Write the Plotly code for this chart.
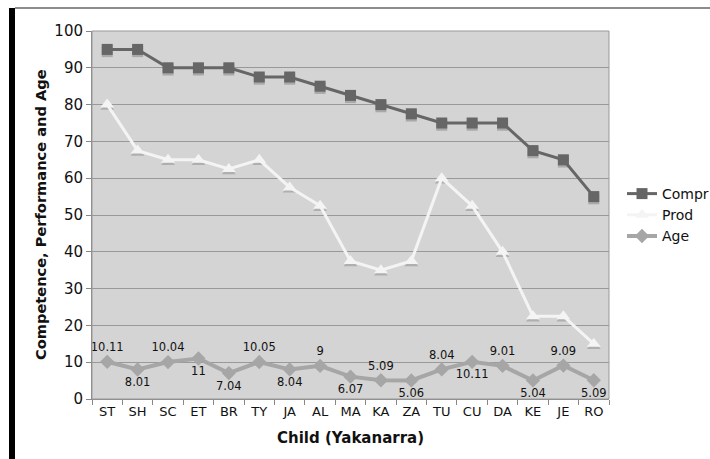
import plotly.graph_objects as go

children = ["ST", "SH", "SC", "ET", "BR", "TY", "JA", "AL", "MA",
            "KA", "ZA", "TU", "CU", "DA", "KE", "JE", "RO"]
compr = [95, 95, 90, 90, 90, 87.5, 87.5, 85, 82.5, 80, 77.5, 75, 75, 75, 67.5, 65, 55]
prod = [80, 67.5, 65, 65, 62.5, 65, 57.5, 52.5, 37.5, 35, 37.5, 60, 52.5, 40, 22.5, 22.5, 15]
age = [10.11, 8.01, 10.04, 11, 7.04, 10.05, 8.04, 9, 6.07, 5.09, 5.06, 8.04, 10.11, 9.01, 5.04, 9.09, 5.09]
age_labels = ["10.11", "8.01", "10.04", "11", "7.04", "10.05", "8.04", "9", "6.07",
              "5.09", "5.06", "8.04", "10.11", "9.01", "5.04", "9.09", "5.09"]
age_label_pos = ["top center", "bottom center", "top center", "bottom center", "bottom center",
                 "top center", "bottom center", "top center", "bottom center", "top center",
                 "bottom center", "top center", "bottom center", "top center", "bottom center",
                 "top center", "bottom center"]

FONT = "DejaVu Sans"

L, R, T, B = 92, 101, 31, 60
W, H = 710, 459
PW, PH = W - L - R, H - T - B


def px_x(p):
    return (p - L) / PW


def px_y(p):
    return (H - B - p) / PH


fig = go.Figure()

# soft drop shadows under the markers
fig.add_trace(go.Scatter(
    x=children, y=[v - 0.6 for v in compr], mode="markers", showlegend=False,
    hoverinfo="skip", marker=dict(symbol="square", size=11, color="rgba(140,140,140,0.6)")))
fig.add_trace(go.Scatter(
    x=children, y=[v - 0.6 for v in prod], mode="markers", showlegend=False,
    hoverinfo="skip", marker=dict(symbol="triangle-up", size=12, color="rgba(150,150,150,0.6)")))

fig.add_trace(go.Scatter(
    x=children, y=compr, name="Compr", mode="lines+markers",
    line=dict(color="#666666", width=3),
    marker=dict(symbol="square", size=11, color="#666666")))
fig.add_trace(go.Scatter(
    x=children, y=prod, name="Prod", mode="lines+markers",
    line=dict(color="#f4f4f4", width=3),
    marker=dict(symbol="triangle-up", size=12, color="#f4f4f4")))
fig.add_trace(go.Scatter(
    x=children, y=age, name="Age", mode="lines+markers+text",
    line=dict(color="#a6a6a6", width=4),
    marker=dict(symbol="diamond", size=11, color="#a6a6a6"),
    text=age_labels, textposition=age_label_pos,
    textfont=dict(family=FONT, size=11.5, color="#111111")))

fig.update_layout(
    width=W, height=H,
    margin=dict(l=L, r=R, t=T, b=B, autoexpand=False),
    paper_bgcolor="white",
    plot_bgcolor="#d4d4d4",
    font=dict(family=FONT, size=13, color="#111111"),
    showlegend=True,
    legend=dict(x=px_x(622), y=px_y(215), xanchor="left", yanchor="middle",
                bgcolor="rgba(0,0,0,0)", font=dict(family=FONT, size=14),
                itemwidth=30, tracegroupgap=0),
    xaxis=dict(
        type="category", range=[-0.5, 16.5], tickson="boundaries",
        ticks="outside", ticklen=5, tickcolor="#888888",
        showgrid=False, showline=True, linecolor="#888888", linewidth=1,
        tickfont=dict(family=FONT, size=13), zeroline=False, fixedrange=True),
    yaxis=dict(
        range=[0, 100], dtick=10, ticks="outside", ticklen=5, tickcolor="#888888",
        showgrid=True, gridcolor="#999999", gridwidth=1,
        showline=True, linecolor="#888888", linewidth=1, mirror=False,
        tickfont=dict(family=FONT, size=15), zeroline=False),
    annotations=[
        dict(text="<b>Competence, Performance and Age</b>", xref="paper", yref="paper",
             x=px_x(40), y=px_y(215), textangle=-90, showarrow=False,
             font=dict(family=FONT, size=14.6), xanchor="center", yanchor="middle"),
        dict(text="<b>Child (Yakanarra)</b>", xref="paper", yref="paper",
             x=0.5, y=px_y(438), showarrow=False,
             font=dict(family=FONT, size=15), xanchor="center", yanchor="middle"),
    ],
    shapes=[
        dict(type="rect", xref="paper", yref="paper",
             x0=px_x(9), x1=px_x(15), y0=px_y(459), y1=px_y(8),
             fillcolor="black", line=dict(width=0), layer="above"),
        dict(type="line", xref="paper", yref="paper",
             x0=px_x(15), x1=px_x(710), y0=px_y(8), y1=px_y(8),
             line=dict(color="#666666", width=1.5)),
        dict(type="rect", xref="paper", yref="paper", x0=0, x1=1, y0=0, y1=1,
             line=dict(color="#999999", width=1)),
    ],
)

fig.write_html("out.html")
